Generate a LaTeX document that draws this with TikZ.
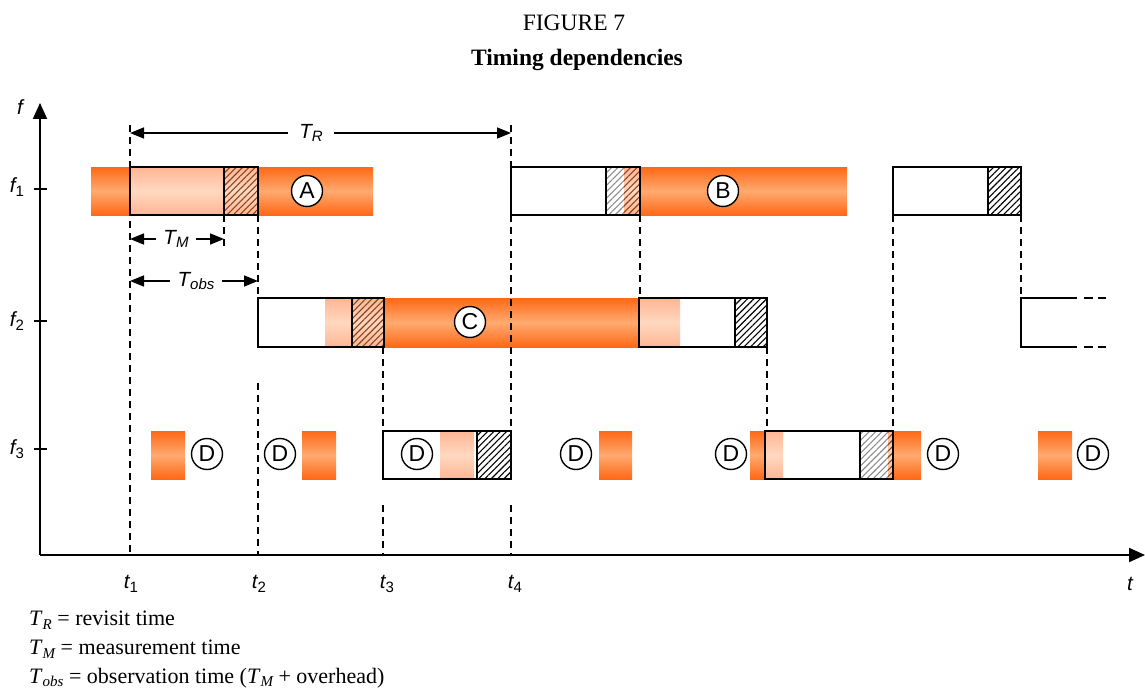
\documentclass[tikz,border=0pt]{standalone}
\usepackage{fontspec}
\setmainfont{Liberation Serif}
\newfontfamily\arialf{Liberation Sans}
\usetikzlibrary{arrows.meta,patterns.meta}
\definecolor{orgE}{RGB}{255,104,22}
\definecolor{orgC}{RGB}{255,170,112}
\definecolor{paleE}{RGB}{255,182,148}
\definecolor{paleC}{RGB}{255,216,192}
\definecolor{hatchbr}{RGB}{135,70,35}
\newcommand{\sbs}[1]{\raisebox{-0.35ex}{\fontsize{15}{15}\selectfont #1}}
\newcommand{\lsub}[1]{\raisebox{-0.35ex}{\fontsize{15}{15}\selectfont\itshape #1}}
\tikzset{
 orangebar/.style={top color=orgE,bottom color=orgE,middle color=orgC,draw=none},
 palebar/.style={top color=paleE,bottom color=paleE,middle color=paleC,draw=none},
 hatchblk/.style={pattern={Lines[angle=45,distance=4.5pt,line width=1.1pt]},pattern color=black},
 hatchbrn/.style={pattern={Lines[angle=45,distance=4.5pt,line width=1.1pt]},pattern color=hatchbr},
 hatchgry/.style={pattern={Lines[angle=45,distance=4.5pt,line width=1.1pt]},pattern color=black!45},
 boxline/.style={draw=black,line width=2pt},
 vdash/.style={line width=1.5pt,dash pattern=on 7pt off 5pt},
 dimarrow/.style={line width=1.5pt,{Triangle[length=14pt,width=11pt]}-{Triangle[length=14pt,width=11pt]}},
 axisline/.style={line width=2pt,-{Triangle[length=16pt,width=14pt]}},
 letter/.style={circle,draw,line width=1.4pt,fill=white,minimum size=31pt,inner sep=0pt,font=\arialf\fontsize{23}{23}\selectfont},
 lab/.style={font=\arialf\itshape\fontsize{20.5}{20.5}\selectfont,inner sep=0pt},
 legend/.style={font=\fontsize{22}{22}\selectfont,anchor=west,inner sep=0pt},
 titlefont/.style={font=\fontsize{23.5}{23.5}\selectfont,inner sep=0pt},
}
\begin{document}
\begin{tikzpicture}[x=1pt,y=-1pt]
\useasboundingbox (0,0) rectangle (1145,690);
% titles
\node[titlefont] (title) at (574,23) {FIGURE 7};
\node[titlefont] (subtitle) at (577,60) {\bfseries Timing dependencies};

% ---------- bars: row f1 ----------
\shade[orangebar] (91,167) rectangle (373,215);
\shade[palebar] (130,167) rectangle (258,215);
\fill[hatchbrn] (224,167) rectangle (258,215);

\shade[orangebar] (640,167) rectangle (847,215);
\shade[palebar] (624,167) rectangle (640,215);
\fill[hatchgry] (606,167) rectangle (624,215);
\fill[hatchbrn] (624,167) rectangle (640,215);

\fill[hatchblk] (988,167) rectangle (1021,215);

% ---------- row f2 ----------
\shade[palebar] (325,298) rectangle (384,347);
\fill[hatchbrn] (352,298) rectangle (384,347);
\shade[orangebar] (384,298) rectangle (639,347);
\shade[palebar] (639,298) rectangle (680,347);
\fill[hatchblk] (735,298) rectangle (767,347);

% ---------- row f3 ----------
\shade[orangebar] (151,431) rectangle (185,479);
\shade[orangebar] (302,431) rectangle (336,479);
\shade[palebar] (440,431) rectangle (474,479);
\fill[hatchblk] (477,431) rectangle (511,479);
\shade[orangebar] (599,431) rectangle (632,479);
\shade[orangebar] (750,431) rectangle (765,479);
\shade[palebar] (765,431) rectangle (783,479);
\fill[hatchgry] (860,431) rectangle (888,479);
\shade[palebar] (888,431) rectangle (893,479);
\fill[hatchbrn] (888,431) rectangle (893,479);
\shade[orangebar] (893,431) rectangle (921,479);
\shade[orangebar] (1038,431) rectangle (1072,479);

% ---------- dashed time markers ----------
\draw[vdash] (130,125) -- (130,555);
\draw[vdash] (224,215) -- (224,250);
\draw[vdash] (258,215) -- (258,298);
\draw[vdash] (258,383) -- (258,555);
\draw[vdash] (383,347) -- (383,431);
\draw[vdash] (383,505) -- (383,555);
\draw[vdash] (511,125) -- (511,167);
\draw[vdash] (511,215) -- (511,431);
\draw[vdash] (511,505) -- (511,555);
\draw[vdash] (640,215) -- (640,298);
\draw[vdash] (767,347) -- (767,431);
\draw[vdash] (893,215) -- (893,431);
\draw[vdash] (1021,215) -- (1021,298);

% ---------- box outlines ----------
\draw[boxline] (130,167) rectangle (258,215);
\draw[boxline] (224,167) -- (224,215);
\draw[boxline] (511,167) rectangle (640,215);
\draw[boxline] (606,167) -- (606,215);
\draw[boxline] (893,167) rectangle (1021,215);
\draw[boxline] (988,167) -- (988,215);

\draw[boxline] (258,298) rectangle (384,347);
\draw[boxline] (352,298) -- (352,347);
\draw[boxline] (639,298) rectangle (767,347);
\draw[boxline] (735,298) -- (735,347);
\draw[boxline] (1077,298) -- (1021,298) -- (1021,347) -- (1077,347);
\draw[boxline,dash pattern=on 9pt off 5pt] (1084,298) -- (1106,298);
\draw[boxline,dash pattern=on 9pt off 5pt] (1084,347) -- (1106,347);

\draw[boxline] (383,431) rectangle (511,479);
\draw[boxline] (477,431) -- (477,479);
\draw[boxline] (765,431) rectangle (893,479);
\draw[boxline] (860,431) -- (860,479);

% ---------- letters ----------
\node[letter] (A) at (307,191) {A};
\node[letter] (B) at (723,191) {B};
\node[letter] (C) at (470,322) {C};
\node[letter] (D1) at (207,454) {D};
\node[letter] (D2) at (280,454) {D};
\node[letter] (D3) at (417,454) {D};
\node[letter] (D4) at (576,454) {D};
\node[letter] (D5) at (731,454) {D};
\node[letter] (D6) at (943,454) {D};
\node[letter] (D7) at (1093,454) {D};

% ---------- axes ----------
\coordinate (O) at (40,555);
\coordinate (ytop) at (40,103);
\coordinate (xend) at (1145,555);
\draw[axisline] (O) -- (ytop);
\draw[axisline] (O) -- (xend);
\draw[line width=2pt] (34,189) -- (47,189);
\draw[line width=2pt] (34,321) -- (47,321);
\draw[line width=2pt] (34,449) -- (47,449);
\node[lab] (flab) at (20,107) {f};
\node[lab] (f1) at (17,187) {f\sbs{\upshape 1}};
\node[lab] (f2) at (17,321) {f\sbs{\upshape 2}};
\node[lab] (f3) at (17,449) {f\sbs{\upshape 3}};
\node[lab] (tlab) at (1130,584) {t};
\node[lab] (t1) at (131,584) {t\sbs{\upshape 1}};
\node[lab] (t2) at (259,584) {t\sbs{\upshape 2}};
\node[lab] (t3) at (387,584) {t\sbs{\upshape 3}};
\node[lab] (t4) at (515,584) {t\sbs{\upshape 4}};

% ---------- dimension arrows ----------
\coordinate (tr1) at (130,133);
\coordinate (tr2) at (511,133);
\draw[dimarrow] (tr1) -- (tr2);
\node[lab,fill=white,inner xsep=11pt,inner ysep=4pt] (TR) at (311,133) {T\sbs{R}};
\coordinate (tm1) at (130,239);
\coordinate (tm2) at (224,239);
\draw[dimarrow] (tm1) -- (tm2);
\node[lab,fill=white,inner xsep=7pt,inner ysep=4pt] (TM) at (176,239) {T\sbs{M}};
\coordinate (to1) at (130,281);
\coordinate (to2) at (258,281);
\draw[dimarrow] (to1) -- (to2);
\node[lab,fill=white,inner xsep=8pt,inner ysep=4pt] (TO) at (196,281) {T\sbs{obs}};

% ---------- legend ----------
\node[legend] (L1) at (29,620) {\textit{T}\lsub{R} = revisit time};
\node[legend] (L2) at (29,649) {\textit{T}\lsub{M} = measurement time};
\node[legend] (L3) at (29,678) {\textit{T}\lsub{obs} = observation time (\textit{T}\lsub{M} + overhead)};
\end{tikzpicture}
\end{document}
